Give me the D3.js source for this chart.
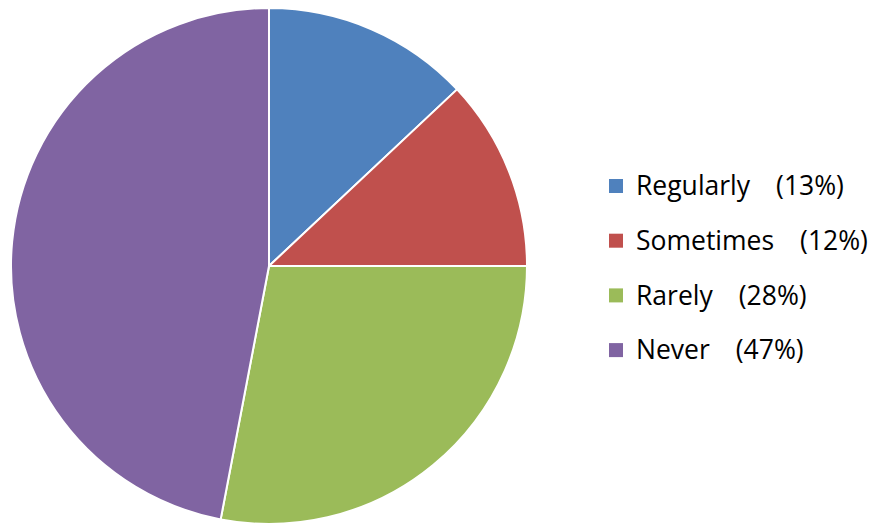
<!DOCTYPE html>
<html>
<head>
<meta charset="utf-8">
<script src="https://cdn.jsdelivr.net/npm/d3@7"></script>
<style>
  html, body { margin: 0; padding: 0; background: #fff; }
</style>
</head>
<body>
<svg id="chart" width="881" height="524"></svg>
<script>
// Survey answers: how often, with share of respondents (%)
const categories = ["Regularly", "Sometimes", "Rarely", "Never"];
const values = [13, 12, 28, 47];
const colors = ["#4F81BD", "#C0504D", "#9BBB59", "#8064A2"];

const svg = d3.select("#chart");
const cx = 269, cy = 266, radius = 258;

const pie = d3.pie().sort(null).value(d => d.value);
const arc = d3.arc().innerRadius(0).outerRadius(radius);

const data = categories.map((c, i) => ({ name: c, value: values[i] }));
const color = d3.scaleOrdinal().domain(categories).range(colors);

svg.append("g")
  .attr("transform", `translate(${cx},${cy})`)
  .selectAll("path")
  .data(pie(data))
  .join("path")
  .attr("d", arc)
  .attr("fill", d => color(d.data.name))
  .attr("stroke", "#fff")
  .attr("stroke-width", 2)
  .attr("stroke-linejoin", "round");

// Legend
const legendX = 609, legendY0 = 186, rowGap = 54.7, gap = 26, fontSize = 26.5;
const font = "'Open Sans', Lato, sans-serif";
const legend = svg.append("g")
  .selectAll("g")
  .data(data)
  .join("g")
  .attr("transform", (d, i) => `translate(${legendX},${legendY0 + i * rowGap})`);

legend.append("rect")
  .attr("x", 0).attr("y", -7)
  .attr("width", 14).attr("height", 14)
  .attr("fill", d => color(d.name));

legend.append("text")
  .attr("x", 27).attr("y", 0)
  .attr("dy", "0.35em")
  .attr("font-family", font)
  .attr("font-size", fontSize)
  .attr("fill", "#000")
  .text(d => d.name);

legend.each(function () {
  const g = d3.select(this);
  const w = g.select("text").node().getComputedTextLength();
  g.append("text")
    .attr("x", 27 + w + gap).attr("y", 0)
    .attr("dy", "0.35em")
    .attr("font-family", font)
    .attr("font-size", fontSize)
    .attr("fill", "#000")
    .text(d => `(${d.value}%)`);
});
</script>
</body>
</html>
